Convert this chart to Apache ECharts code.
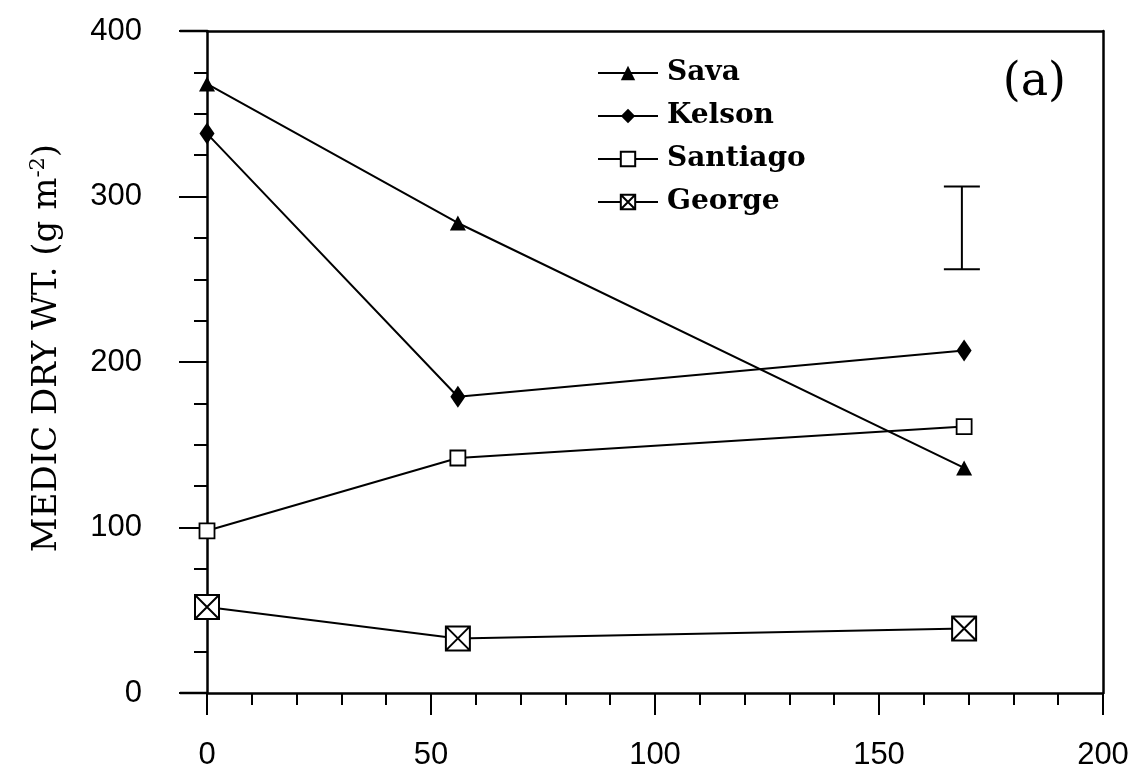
<!DOCTYPE html>
<html>
<head>
<meta charset="utf-8">
<script src="https://cdn.jsdelivr.net/npm/echarts@6/dist/echarts.min.js"></script>
<style>
  html, body { margin: 0; padding: 0; background: #fff; }
  #chart { width: 1135px; height: 782px; }
</style>
</head>
<body>
<div id="chart"></div>
<script>
// ---- data ----
const xValues = [0, 56, 169];
const savaValues = [368, 284, 136];
const kelsonValues = [338, 179, 207];
const santiagoValues = [98, 142, 161];
const georgeValues = [52, 33, 39];
const seriesNames = ['Sava', 'Kelson', 'Santiago', 'George'];
const errorBarX = [168.5];
const errorBarLow = [256];
const errorBarHigh = [306];
const xAxisMin = 0, xAxisMax = 200, xAxisStep = 50;
const yAxisMin = 0, yAxisMax = 400, yAxisStep = 100;

function pairs(xs, ys) { return xs.map((x, i) => [x, ys[i]]); }

const gridLeft = 207, gridRight = 32, gridTop = 31, gridBottom = 89;
const chart = echarts.init(document.getElementById('chart'), null, { renderer: 'canvas' });

const lineStyle = { color: '#000', width: 2 };
const georgeSymbol = 'path://M0,0L20,0L20,20L0,20Z M0,0L20,20 M20,0L0,20';

const option = {
  backgroundColor: '#fff',
  animation: false,
  title: {
    text: '(a)',
    right: 69,
    top: 60,
    padding: 0,
    textStyle: { fontFamily: 'DejaVu Serif', fontSize: 46, fontWeight: 'normal', color: '#000' }
  },
  legend: {
    orient: 'vertical',
    left: 597,
    top: 59,
    padding: 0,
    itemWidth: 60,
    itemHeight: 18,
    itemGap: 15,
    data: seriesNames,
    textStyle: { fontFamily: 'DejaVu Serif', fontWeight: 'bold', fontSize: 28, lineHeight: 28, color: '#000', padding: [0, 0, 0, 4] }
  },
  grid: { left: gridLeft, right: gridRight, top: gridTop, bottom: gridBottom, containLabel: false },
  xAxis: [{
    type: 'value',
    min: xAxisMin, max: xAxisMax, interval: xAxisStep,
    position: 'bottom',
    axisLine: { show: true, lineStyle: { color: '#000', width: 2.5 } },
    axisTick: { show: true, length: 22, lineStyle: { color: '#000', width: 2 } },
    minorTick: { show: true, splitNumber: 5, length: 12, lineStyle: { color: '#000', width: 2 } },
    splitLine: { show: false },
    axisLabel: { margin: 47, fontFamily: 'Liberation Sans', fontSize: 31, color: '#000' }
  }, {
    type: 'value',
    min: xAxisMin, max: xAxisMax,
    position: 'top',
    axisLine: { show: true, onZero: false, lineStyle: { color: '#000', width: 2.5 } },
    axisTick: { show: false }, axisLabel: { show: false }, splitLine: { show: false }
  }],
  yAxis: [{
    type: 'value',
    min: yAxisMin, max: yAxisMax, interval: yAxisStep,
    position: 'left',
    axisLine: { show: true, lineStyle: { color: '#000', width: 2.5 } },
    axisTick: { show: true, length: 28, lineStyle: { color: '#000', width: 2 } },
    minorTick: { show: true, splitNumber: 4, length: 13, lineStyle: { color: '#000', width: 2 } },
    splitLine: { show: false },
    axisLabel: { margin: 65, fontFamily: 'Liberation Sans', fontSize: 31, color: '#000' },
    name: '{a|MEDIC DRY WT. (g m}{s|-2}{a|)}',
    nameLocation: 'middle',
    nameGap: 141,
    nameTextStyle: {
      fontFamily: 'DejaVu Serif',
      fontSize: 34,
      color: '#000',
      padding: [0, 0, 0, 28],
      rich: {
        a: { fontFamily: 'DejaVu Serif', fontSize: 34, color: '#000' },
        s: { fontFamily: 'DejaVu Serif', fontSize: 21, color: '#000', padding: [0, 0, 17, 0] }
      }
    }
  }, {
    type: 'value',
    min: yAxisMin, max: yAxisMax,
    position: 'right',
    axisLine: { show: true, onZero: false, lineStyle: { color: '#000', width: 2.5 } },
    axisTick: { show: false }, axisLabel: { show: false }, splitLine: { show: false }
  }],
  series: [{
    name: 'Sava', type: 'line', data: pairs(xValues, savaValues),
    symbol: 'triangle', symbolSize: [16, 15],
    lineStyle: lineStyle, itemStyle: { color: '#000', borderColor: '#000', borderWidth: 0 }, z: 3
  }, {
    name: 'Kelson', type: 'line', data: pairs(xValues, kelsonValues),
    symbol: 'diamond', symbolSize: [15, 22],
    lineStyle: lineStyle, itemStyle: { color: '#000', borderColor: '#000', borderWidth: 0 }, z: 3
  }, {
    name: 'Santiago', type: 'line', data: pairs(xValues, santiagoValues),
    symbol: 'rect', symbolSize: 15,
    lineStyle: lineStyle, itemStyle: { color: '#fff', borderColor: '#000', borderWidth: 1.8 }, z: 3
  }, {
    name: 'George', type: 'line', data: pairs(xValues, georgeValues),
    symbol: georgeSymbol, symbolSize: 24,
    lineStyle: lineStyle, itemStyle: { color: '#fff', borderColor: '#000', borderWidth: 2 }, z: 3
  }, {
    name: 'LSD', type: 'custom',
    data: errorBarX.map((x, i) => [x, errorBarLow[i], errorBarHigh[i]]),
    renderItem: function (params, api) {
      const lo = api.coord([api.value(0), api.value(1)]);
      const hi = api.coord([api.value(0), api.value(2)]);
      const hw = 18;
      const st = { stroke: '#000', lineWidth: 2 };
      return { type: 'group', children: [
        { type: 'line', shape: { x1: lo[0], y1: lo[1], x2: hi[0], y2: hi[1] }, style: st },
        { type: 'line', shape: { x1: lo[0] - hw, y1: lo[1], x2: lo[0] + hw, y2: lo[1] }, style: st },
        { type: 'line', shape: { x1: hi[0] - hw, y1: hi[1], x2: hi[0] + hw, y2: hi[1] }, style: st }
      ]};
    },
    z: 2
  }],
  graphic: [
    { type: 'line', shape: { x1: gridLeft - 27, y1: gridTop, x2: gridLeft, y2: gridTop }, style: { stroke: '#000', lineWidth: 2.5 } },
    { type: 'line', shape: { x1: gridLeft - 27, y1: 782 - gridBottom, x2: gridLeft, y2: 782 - gridBottom }, style: { stroke: '#000', lineWidth: 2.5 } }
  ]
};
chart.setOption(option);
</script>
</body>
</html>
